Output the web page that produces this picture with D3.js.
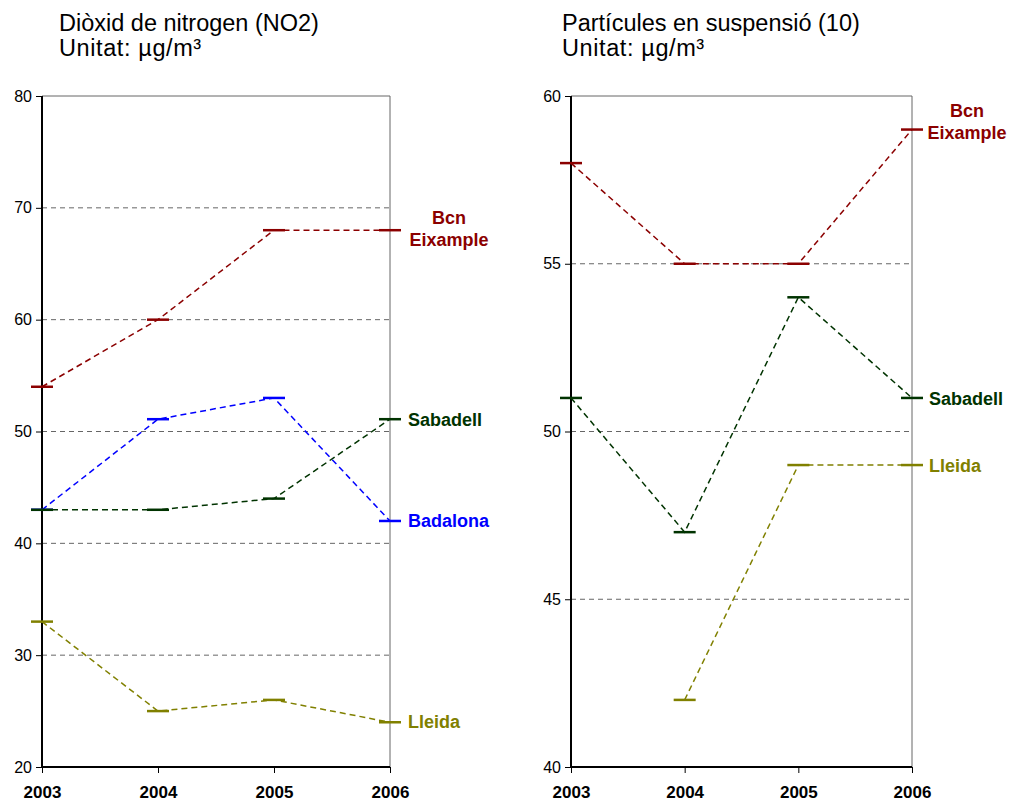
<!DOCTYPE html>
<html><head><meta charset="utf-8">
<script src="https://cdn.jsdelivr.net/npm/d3@7"></script>
<style>body{margin:0;background:#fff;} svg{font-family:"Liberation Sans",Arial,sans-serif;}</style>
</head><body>
<svg id="c" width="1014" height="803"></svg>
<script>
const years = [2003, 2004, 2005, 2006];
// NO2
const no2Bcn = [54, 60, 68, 68];
const no2Badalona = [43, 51.1, 53, 42];
const no2Sabadell = [43, 43, 44, 51.1];
const no2Lleida = [33, 25, 26, 24];
const no2Ticks = [20, 30, 40, 50, 60, 70, 80];
// PM10
const pmBcn = [58, 55, 55, 59];
const pmSabadell = [51, 47, 54, 51];
const pmLleida = [null, 42, 49, 49];
const pmTicks = [40, 45, 50, 55, 60];

const colors = {bcn:"#8B0000", badalona:"#0000FF", sabadell:"#003300", lleida:"#808000"};

const svg = d3.select("#c");

function panel(cfg){
  const g = svg.append("g");
  const x = d3.scaleLinear().domain([2003, 2006]).range([cfg.x0, cfg.x1]);
  const y = d3.scaleLinear().domain(cfg.domain).range([767, 96]);
  // titles
  g.append("text").attr("x", cfg.tx).attr("y", 31).attr("font-size", 23.5).text(cfg.title);
  g.append("text").attr("x", cfg.tx).attr("y", 56).attr("font-size", 23.5).attr("letter-spacing", 0.6).text("Unitat: µg/m³");
  // grid
  g.selectAll(".grid").data(cfg.ticks.filter(t => t !== cfg.domain[0] && t !== cfg.domain[1]))
    .enter().append("line")
    .attr("x1", cfg.x0).attr("x2", cfg.x1).attr("y1", d => y(d)).attr("y2", d => y(d))
    .attr("stroke", "#666").attr("stroke-width", 1).attr("stroke-dasharray", "5,4");
  // frame top/right
  g.append("line").attr("x1", cfg.x0).attr("x2", cfg.x1).attr("y1", y(cfg.domain[1])).attr("y2", y(cfg.domain[1])).attr("stroke", "#666");
  g.append("line").attr("x1", cfg.x1).attr("x2", cfg.x1).attr("y1", 96).attr("y2", 767).attr("stroke", "#666");
  // axes
  const ya = d3.axisLeft(y).tickValues(cfg.ticks).tickSize(6).tickPadding(4).tickFormat(d3.format("d"));
  const yg = g.append("g").attr("transform", `translate(${cfg.x0},0)`).call(ya);
  yg.select(".domain").attr("stroke", "#000").attr("stroke-width", 2).attr("d", `M0,96V767`);
  yg.selectAll(".tick line").attr("stroke", "#000");
  yg.selectAll(".tick text").attr("font-size", 16).attr("fill", "#000").attr("font-family", "Liberation Sans, Arial");
  const xa = d3.axisBottom(x).tickValues(years).tickSize(6).tickPadding(0).tickFormat(d3.format("d"));
  const xg = g.append("g").attr("transform", `translate(0,767)`).call(xa);
  xg.select(".domain").attr("stroke", "#000").attr("stroke-width", 2).attr("d", `M${cfg.x0},0H${cfg.x1}`);
  xg.selectAll(".tick line").attr("stroke", "#000");
  xg.selectAll(".tick text").attr("dy", null).attr("y", 31).attr("font-size", 17).attr("font-weight", "bold").attr("fill", "#000").attr("font-family", "Liberation Sans, Arial");
  // series
  const line = d3.line().defined(d => d.v !== null).x(d => x(d.yr)).y(d => y(d.v));
  cfg.series.forEach(s => {
    const pts = years.map((yr, i) => ({yr, v: s.values[i]}));
    g.append("path").attr("d", line(pts)).attr("fill", "none").attr("stroke", s.color)
      .attr("stroke-width", 1.5).attr("stroke-dasharray", "6,4");
    g.selectAll(null).data(pts.filter(p => p.v !== null)).enter().append("line")
      .attr("x1", d => x(d.yr) - 11).attr("x2", d => x(d.yr) + 11)
      .attr("y1", d => y(d.v)).attr("y2", d => y(d.v))
      .attr("stroke", s.color).attr("stroke-width", 2.5);
    const t = g.append("text").attr("fill", s.color).attr("font-weight", "bold").attr("font-size", 18)
      .attr("text-anchor", s.anchor || "start");
    s.label.forEach((ln, i) => {
      t.append("tspan").attr("x", s.lx).attr("y", s.ly + i * 22).text(ln);
    });
  });
}

panel({
  x0: 42, x1: 390, tx: 59, domain: [20, 80], ticks: no2Ticks, title: "Diòxid de nitrogen (NO2)",
  series: [
    {values: no2Bcn, color: colors.bcn, label: ["Bcn", "Eixample"], lx: 449, ly: 224, anchor: "middle"},
    {values: no2Badalona, color: colors.badalona, label: ["Badalona"], lx: 408, ly: 527},
    {values: no2Sabadell, color: colors.sabadell, label: ["Sabadell"], lx: 408, ly: 426},
    {values: no2Lleida, color: colors.lleida, label: ["Lleida"], lx: 408, ly: 728}
  ]
});
panel({
  x0: 571, x1: 912, tx: 562, domain: [40, 60], ticks: pmTicks, title: "Partícules en suspensió (10)",
  series: [
    {values: pmBcn, color: colors.bcn, label: ["Bcn", "Eixample"], lx: 967, ly: 117, anchor: "middle"},
    {values: pmSabadell, color: colors.sabadell, label: ["Sabadell"], lx: 929, ly: 405},
    {values: pmLleida, color: colors.lleida, label: ["Lleida"], lx: 929, ly: 472}
  ]
});
</script>
</body></html>
